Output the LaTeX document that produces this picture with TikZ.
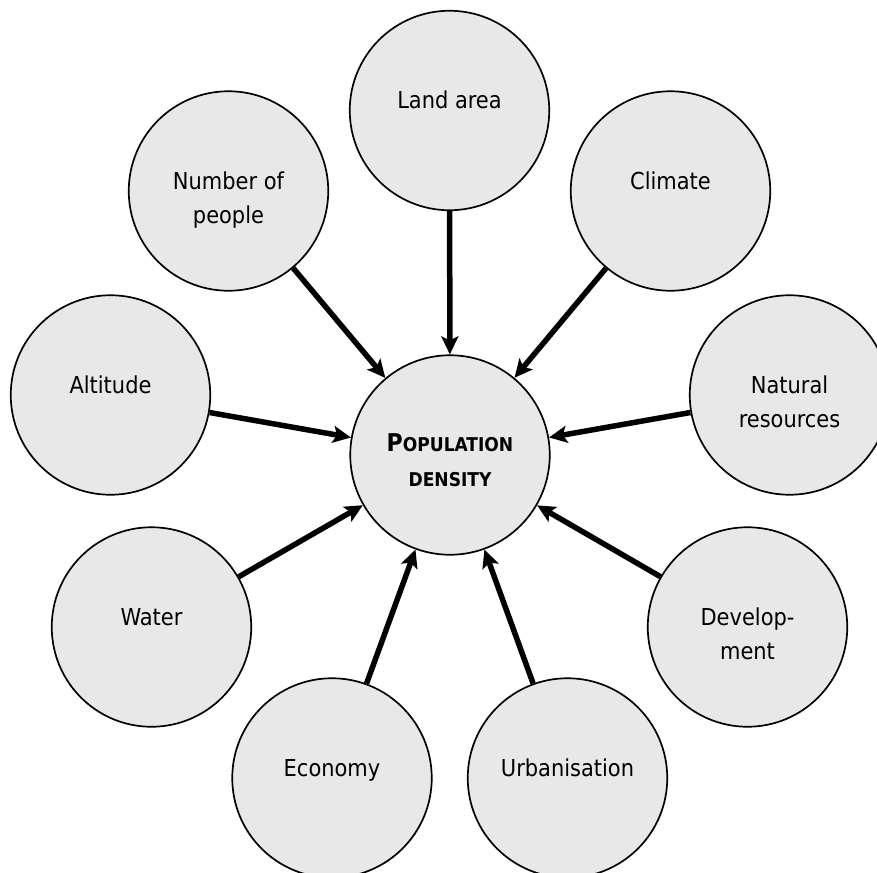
\documentclass[tikz,border=0pt]{standalone}
\usepackage{fontspec}
\setmainfont{DejaVu Sans Condensed}
\usetikzlibrary{arrows.meta}
\definecolor{cfill}{RGB}{232,232,232}
\begin{document}
\begin{tikzpicture}[x=1pt,y=-1pt,
  bub/.style={circle,draw=black,line width=1.7pt,fill=cfill,minimum size=199.5pt,inner sep=0pt},
  lbl/.style={anchor=base,inner sep=0pt,font=\fontsize{23.3}{33.6}\selectfont,yshift=1.5pt},
  conn/.style={line width=5.5pt,-{Stealth[length=18pt,width=17pt,inset=4pt]}}]
\useasboundingbox (0,0) rectangle (877,872);
\node[bub] (pd) at (450,455) {};
\node[bub] (land) at (449.5,110.5) {};
\node[bub] (clim) at (670.5,191) {};
\node[bub] (nat) at (789.5,395) {};
\node[bub] (dev) at (747.5,627) {};
\node[bub] (urb) at (567.5,778) {};
\node[bub] (eco) at (332,778) {};
\node[bub] (wat) at (151.5,627) {};
\node[bub] (alt) at (110.5,395) {};
\node[bub] (num) at (228.5,191) {};
\node[lbl] (tland) at (land.center) {Land area};
\node[lbl] (tclim) at (clim.center) {Climate};
\node[lbl] (tnat) at (nat.center) {\tabcolsep=0pt\begin{tabular}[t]{c}Natural\\resources\end{tabular}};
\node[lbl] (tdev) at (dev.center) {\tabcolsep=0pt\begin{tabular}[t]{c}Develop-\\ment\end{tabular}};
\node[lbl] (turb) at (urb.center) {Urbanisation};
\node[lbl] (teco) at (eco.center) {Economy};
\node[lbl] (twat) at (wat.center) {Water};
\node[lbl] (talt) at (alt.center) {Altitude};
\node[lbl] (tnum) at (num.center) {\tabcolsep=0pt\begin{tabular}[t]{c}Number of\\people\end{tabular}};
\node[anchor=base,inner sep=0pt,yshift=3.3pt,font=\bfseries\fontsize{24.5}{35}\selectfont] (tpd) at (pd.center)
  {\tabcolsep=0pt\begin{tabular}[t]{c}P{\fontsize{19}{35}\selectfont OPULATION}\\{\fontsize{19}{35}\selectfont DENSITY}\end{tabular}};
\foreach \s in {land,clim,nat,dev,urb,eco,wat,alt,num}
  \draw[conn] (\s) -- (pd);
\end{tikzpicture}
\end{document}
